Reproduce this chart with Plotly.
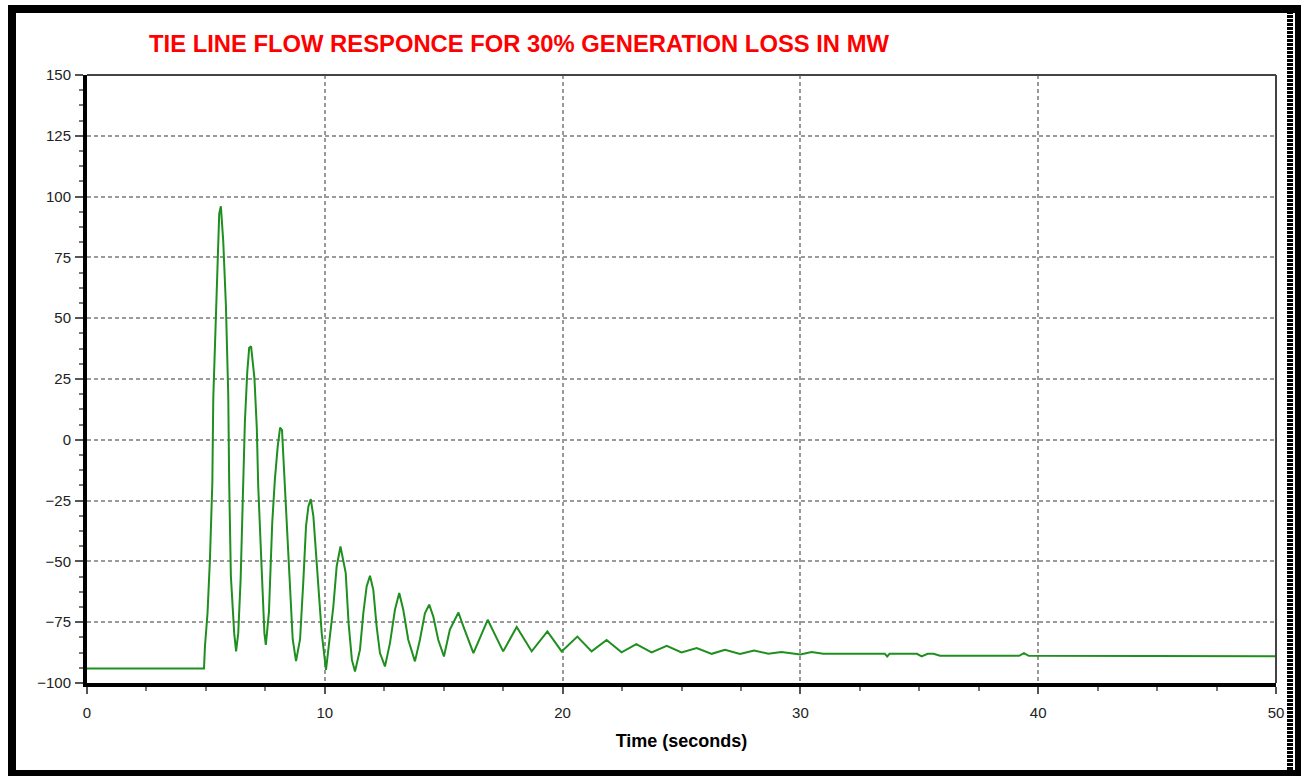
import plotly.graph_objects as go

# ---- data ----
time_s = [0, 4.92, 4.96, 5.07, 5.17, 5.27, 5.31, 5.41, 5.5, 5.56, 5.63, 5.73, 5.84, 5.94,
          5.98, 6.05, 6.19, 6.27, 6.36, 6.46, 6.57, 6.64, 6.74, 6.82, 6.9, 7.04, 7.14, 7.2,
          7.34, 7.46, 7.52, 7.65, 7.79, 7.9, 8.02, 8.12, 8.2, 8.26, 8.4, 8.54, 8.65, 8.79,
          8.96, 9.1, 9.21, 9.31, 9.41, 9.52, 9.62, 9.76, 9.87, 10.05, 10.21, 10.36, 10.5,
          10.66, 10.88, 11.0, 11.14, 11.27, 11.48, 11.62, 11.76, 11.9, 12.04, 12.18, 12.32,
          12.53, 12.74, 12.95, 13.13, 13.3, 13.51, 13.79, 14.0, 14.21, 14.39, 14.56, 14.77,
          15.01, 15.26, 15.62, 15.83, 16.25, 16.85, 17.5, 18.07, 18.7, 19.36, 19.96, 20.62,
          21.22, 21.85, 22.48, 23.1, 23.74, 24.38, 25.0, 25.64, 26.27, 26.83, 27.46, 28.05,
          28.65, 29.2, 30.0, 30.47, 30.96, 33.55, 33.65, 33.75, 34.9, 35.1, 35.35, 35.6,
          35.87, 39.2, 39.4, 39.6, 50]
flow_mw = [-94, -94, -85, -71, -49, -18, 17, 51, 78, 93, 96, 81.5, 55.5, 18.5,
           -18, -56, -79.5, -87, -79.5, -57.6, -17.8, 7.5, 28, 37.8, 38.4, 25.5, 5, -19,
           -52, -79.5, -84.3, -71, -34, -16.4, -2.7, 5, 4, -8, -38, -64, -82, -91,
           -82, -57.6, -35.6, -27.4, -24.4, -31.5, -45, -64, -79.5, -94.6, -82, -68.5, -52,
           -43.9, -54.8, -75.4, -90.5, -95.3, -86.3, -71.3, -60.3, -55.9, -61.7, -76.8, -87.7,
           -93.2, -83.6, -69.9, -63, -69.9, -82.2, -91.1, -82.2, -71.3, -67.8, -72.6, -82.2,
           -89.1, -78, -71, -76.8, -87.7, -74, -87, -77, -87, -78.8, -87, -80.9,
           -87, -82.3, -87.4, -84, -87.4, -84.7, -87.4, -85.6, -88, -86.3, -88.1, -86.6,
           -88, -87.3, -88.3, -87.3, -88, -88, -89.1, -88, -88, -89.1, -88, -88,
           -88.8, -88.8, -87.7, -88.8, -89]

x_ticks = [0, 10, 20, 30, 40, 50]
y_ticks = [-100, -75, -50, -25, 0, 25, 50, 75, 100, 125, 150]

title_text = "TIE LINE FLOW RESPONCE FOR 30% GENERATION LOSS IN MW"
x_title = "Time (seconds)"

# ---- layout geometry (pixels) ----
W, H = 1301, 776
L, R, T, B = 87, 1276, 75, 683


def px(x):
    return (x - L) / (R - L)


def py(y):
    return (B - y) / (B - T)


FONT = "Liberation Sans, Arial, sans-serif"

fig = go.Figure()
fig.add_trace(go.Scatter(
    x=time_s, y=flow_mw, mode="lines",
    line=dict(color="#1f8f1f", width=2),
    hoverinfo="skip", showlegend=False,
))

grid = dict(showgrid=True, gridcolor="#9a9a9a", gridwidth=2, griddash="4px,3px")

fig.update_xaxes(
    range=[0, 50], tickvals=x_ticks, ticks="outside", ticklen=7, tickwidth=1.5,
    tickcolor="#555", showline=True, linecolor="black", linewidth=4, mirror=False,
    zeroline=False, tickfont=dict(family=FONT, size=15, color="#222"),
    ticklabelstandoff=6,
    minor=dict(ticks="outside", dtick=2.5, ticklen=4, tickcolor="#777", tickwidth=1.5, showgrid=False),
    title=dict(text="<b>" + x_title + "</b>", font=dict(family=FONT, size=18, color="black"), standoff=15),
    **grid,
)
fig.update_yaxes(
    range=[-100, 150], tickvals=y_ticks, ticks="outside", ticklen=8, tickwidth=1.5,
    tickcolor="#555", showline=True, linecolor="black", linewidth=4, mirror=False,
    zeroline=False, tickfont=dict(family=FONT, size=15, color="#222"),
    ticklabelstandoff=1,
    minor=dict(ticks="outside", dtick=6.25, ticklen=4, tickcolor="#777", tickwidth=1.5, showgrid=False),
    **grid,
)

shapes = []
# thin top and right plot border
shapes.append(dict(type="line", xref="paper", yref="paper", x0=0, x1=1, y0=1, y1=1,
                   line=dict(color="#444", width=2)))
shapes.append(dict(type="line", xref="paper", yref="paper", x0=1, x1=1, y0=0, y1=1,
                   line=dict(color="#444", width=2)))
# outer black frame
for (x0, y0, x1, y1) in [(8, 5, 16, 776), (8, 5, 1297, 13), (8, 770, 1301, 776), (1295, 5, 1301, 776)]:
    shapes.append(dict(type="rect", xref="paper", yref="paper",
                       x0=px(x0), x1=px(x1), y0=py(y1), y1=py(y0),
                       fillcolor="black", line=dict(width=0), layer="above"))
# dotted right edge column
shapes.append(dict(type="line", xref="paper", yref="paper",
                   x0=px(1290), x1=px(1290), y0=py(770), y1=py(13),
                   line=dict(color="black", width=6, dash="3px,1px"), layer="above"))

fig.update_layout(
    width=W, height=H,
    margin=dict(l=L, r=W - R, t=T, b=H - B),
    paper_bgcolor="white", plot_bgcolor="white",
    shapes=shapes,
    annotations=[dict(
        text="<b>" + title_text + "</b>", xref="paper", yref="paper",
        x=px(519), y=py(43), xanchor="center", yanchor="middle", showarrow=False,
        font=dict(family=FONT, size=23.8, color="#ff0000"),
    )],
)

fig.write_html("out.html")
